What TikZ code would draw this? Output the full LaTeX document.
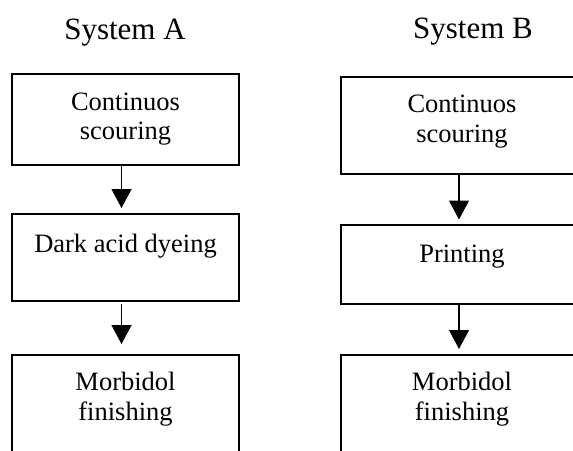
\documentclass[tikz,border=0pt]{standalone}
\usepackage{fontspec}
\setmainfont{Liberation Serif}
\usetikzlibrary{arrows.meta}
\begin{document}
\begin{tikzpicture}[x=1pt,y=-1pt,
  boxA/.style={draw,line width=1.6pt,minimum width=227pt,inner sep=0pt,outer sep=0pt},
  boxB/.style={draw,line width=1.6pt,minimum width=242pt,inner sep=0pt,outer sep=0pt},
  title/.style={anchor=base,inner sep=0pt,font=\fontsize{31}{34}\selectfont},
  lbl/.style={anchor=base,inner sep=0pt,font=\fontsize{26.5}{29.5}\selectfont},
  flow/.style={line width=1.2pt,-{Triangle[width=20pt,length=19pt]}}]
\useasboundingbox (0,0) rectangle (573,450);
\clip (0,0) rectangle (573,450);
% titles
\node[title] (tA) at (125,39) {System A};
\node[title] (tB) at (473,38) {System B};
% System A boxes
\node[boxA,minimum height=91pt] (a1) at (125.5,119.5) {};
\node[boxA,minimum height=87pt] (a2) at (125.5,257.5) {};
\node[boxA,minimum height=125pt] (a3) at (125.5,417.5) {};
% System B boxes
\node[boxB,minimum height=97pt] (b1) at (462,125.5) {};
\node[boxB,minimum height=79pt] (b2) at (462,264.5) {};
\node[boxB,minimum height=125pt] (b3) at (462,417.5) {};
% texts A
\node[lbl] (a1l1) at (125.5,110) {Continuos};
\node[lbl] (a1l2) at (125.5,139) {scouring};
\node[lbl] (a2l1) at (125.5,252) {Dark acid dyeing};
\node[lbl] (a3l1) at (125.5,390) {Morbidol};
\node[lbl] (a3l2) at (125.5,420) {finishing};
% texts B
\node[lbl] (b1l1) at (462,112.5) {Continuos};
\node[lbl] (b1l2) at (462,142) {scouring};
\node[lbl] (b2l1) at (462,262) {Printing};
\node[lbl] (b3l1) at (462,390) {Morbidol};
\node[lbl] (b3l2) at (462,420) {finishing};
% arrows
\draw[flow,shorten >=6pt] ([xshift=-4pt]a1.south) -- ([xshift=-4pt]a2.north);
\draw[flow,shorten <=3pt,shorten >=11pt] ([xshift=-4pt]a2.south) -- ([xshift=-4pt]a3.north);
\draw[flow,shorten >=5.5pt] ([xshift=-3pt]b1.south) -- ([xshift=-3pt]b2.north);
\draw[flow,shorten >=6pt] ([xshift=-3pt]b2.south) -- ([xshift=-3pt]b3.north);
\end{tikzpicture}
\end{document}
